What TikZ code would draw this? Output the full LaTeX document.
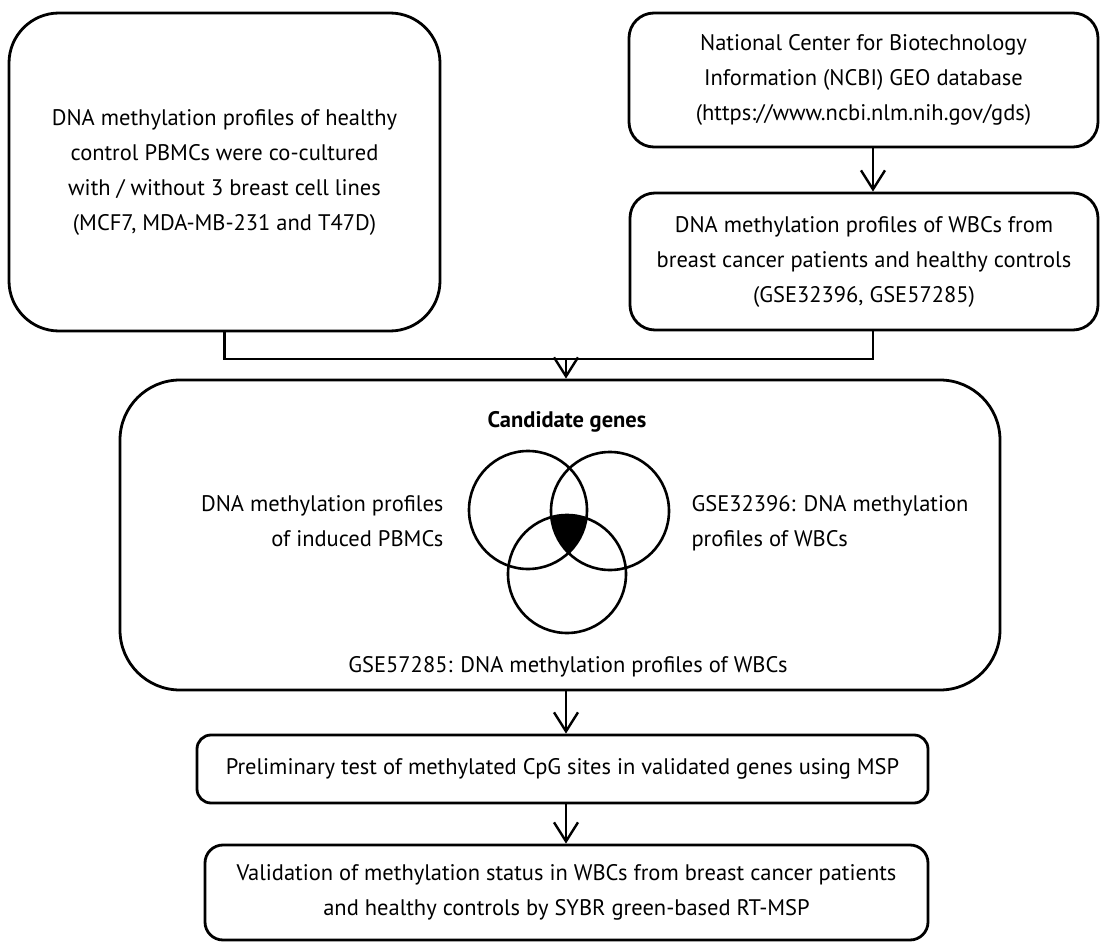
\documentclass[tikz,border=0pt]{standalone}
\usepackage{fontspec}
\setmainfont{PT Sans}
\usetikzlibrary{arrows.meta}
\tikzset{
  box/.style={draw, line width=2.8pt, rounded corners=#1, align=center, inner sep=0pt},
  arr/.style={line width=2.6pt, -{Straight Barb[length=19pt,width=24pt,line width=2.4pt]}},
  conn/.style={line width=2.6pt},
  txt/.style={font=\fontsize{22.5}{35}\selectfont}
}
\begin{document}
\begin{tikzpicture}[x=1pt,y=-1pt]
\useasboundingbox (0,0) rectangle (1104,947);
% boxes
\node[box=50pt, minimum width=431pt, minimum height=318pt, txt] (box1) at (224.5,172)
  {DNA methylation profiles of healthy\\control PBMCs were co-cultured\\with / without 3 breast cell lines\\(MCF7, MDA-MB-231 and T47D)};
\node[box=25pt, minimum width=469pt, minimum height=134pt, txt] (box2) at (863.5,80)
  {National Center for Biotechnology\\Information (NCBI) GEO database\\(https://www.ncbi.nlm.nih.gov/gds)};
\node[box=25pt, minimum width=468pt, minimum height=137pt, txt] (box3) at (864,261.5)
  {DNA methylation profiles of WBCs from\\breast cancer patients and healthy controls\\(GSE32396, GSE57285)};
\node[box=60pt, minimum width=880pt, minimum height=310pt] (box4) at (560,535) {};
\node[box=14pt, minimum width=731pt, minimum height=68pt, txt] (box5) at (562.5,769)
  {Preliminary test of methylated CpG sites in validated genes using MSP};
\node[box=18pt, minimum width=723pt, minimum height=95pt, txt] (box6) at (566.5,892.5)
  {Validation of methylation status in WBCs from breast cancer patients\\and healthy controls by SYBR green-based RT-MSP};
% contents of box4
\node[txt, font=\fontsize{22.5}{35}\selectfont\bfseries] (cand) at (567,422) {Candidate genes};
\node[txt, align=right, anchor=east] (lblA) at (447,521) {DNA methylation profiles\\of induced PBMCs};
\node[txt, align=left, anchor=west] (lblB) at (688,523) {GSE32396: DNA methylation\\profiles of WBCs};
\node[txt] (lblC) at (568,667) {GSE57285: DNA methylation profiles of WBCs};
% venn
\coordinate (cA) at (528,510);
\coordinate (cB) at (610,511);
\coordinate (cC) at (567,574);
\begin{scope}
  \clip (cA) circle (59);
  \clip (cB) circle (59);
  \fill[black] (cC) circle (59);
\end{scope}
\draw[conn] (cA) circle (59);
\draw[conn] (cB) circle (59);
\draw[conn] (cC) circle (59);
% connectors
\coordinate (j) at (566,359);
\coordinate (jr) at (873,359);
\draw[arr] (box2.south -| jr) -- (box3.north -| jr);
\draw[conn] (box1.south) |- (jr) -- (box3.south -| jr);
\draw[arr] (j) -- (j |- box4.north);
\draw[arr] (box4.south -| j) -- (box5.north -| j);
\draw[arr] (box5.south -| j) -- (box6.north -| j);
\end{tikzpicture}
\end{document}
